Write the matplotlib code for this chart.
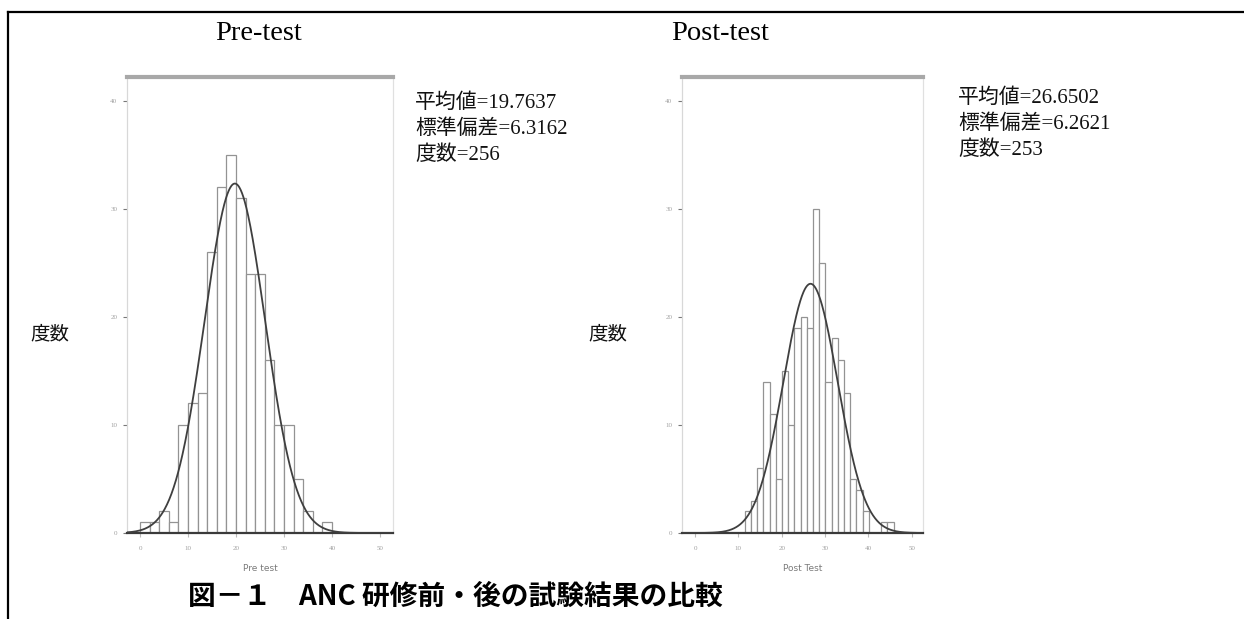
import numpy as np
import matplotlib
matplotlib.use("Agg")
import matplotlib.pyplot as plt
from matplotlib.lines import Line2D

plt.rcParams['font.family'] = ['Liberation Serif', 'Noto Sans CJK JP']

# ---------------- data ----------------
pre_bin_left = [0, 2, 4, 6, 8, 10, 12, 14, 16, 18, 20, 22, 24, 26, 28, 30, 32, 34, 36, 38]
pre_bin_width = 2.0
pre_counts = [1, 1, 2, 1, 10, 12, 13, 26, 32, 35, 31, 24, 24, 16, 10, 10, 5, 2, 0, 1]
pre_mean, pre_sd, pre_n = 19.7637, 6.3162, 256

post_bin_left = [11.47, 12.90, 14.33, 15.76, 17.19, 18.63, 20.06, 21.49, 22.92, 24.35,
                 25.78, 27.21, 28.64, 30.07, 31.50, 32.94, 34.37, 35.80, 37.23, 38.66,
                 40.09, 41.52, 42.95, 44.38]
post_bin_width = 1.431
post_counts = [2, 3, 6, 14, 11, 5, 15, 10, 19, 20, 19, 30, 25, 14, 18, 16, 13, 5, 4, 2, 0, 0, 1, 1]
post_mean, post_sd, post_n = 26.6502, 6.2621, 253

x_ticks = [0, 10, 20, 30, 40, 50]
y_ticks = [0, 10, 20, 30, 40]

titles = ["Pre-test", "Post-test"]
xlabels = ["Pre test", "Post Test"]
ylabel = "度数"
caption = "図－１　ANC 研修前・後の試験結果の比較"

# ---------------- figure ----------------
W, H = 1244, 619
fig = plt.figure(figsize=(W / 100, H / 100), dpi=100)
fig.patch.set_facecolor('white')


def fx(px):
    return px / W


def fy(py):
    return 1 - py / H


# frame lines
fig.add_artist(Line2D([fx(8), 1.0], [fy(12), fy(12)], color='black', lw=1.6))
fig.add_artist(Line2D([fx(8), fx(8)], [0.0, fy(12)], color='black', lw=1.6))

panels = [
    dict(left=127, right=393, xlim=(-2.71, 52.71), bins=pre_bin_left, bw=pre_bin_width,
         counts=pre_counts, mean=pre_mean, sd=pre_sd, n=pre_n,
         title_x=259, stats_x=415, stats_y=[103, 129, 155], ylab_x=50),
    dict(left=682, right=923, xlim=(-3.0, 52.6), bins=post_bin_left, bw=post_bin_width,
         counts=post_counts, mean=post_mean, sd=post_sd, n=post_n,
         title_x=720, stats_x=958, stats_y=[98, 124, 150], ylab_x=608),
]

top_px, bot_px = 77, 533
for i, p in enumerate(panels):
    ax = fig.add_axes([fx(p['left']), fy(bot_px), fx(p['right'] - p['left']),
                       (bot_px - top_px) / H])
    ax.bar(p['bins'], p['counts'], width=p['bw'], align='edge', color='white',
           edgecolor='#939393', linewidth=0.9, zorder=2)
    xs = np.linspace(p['xlim'][0], p['xlim'][1], 600)
    ys = p['n'] * p['bw'] / (p['sd'] * np.sqrt(2 * np.pi)) * np.exp(-0.5 * ((xs - p['mean']) / p['sd']) ** 2)
    ax.plot(xs, ys, color='#3f3f3f', lw=1.3, zorder=3)
    ax.set_xlim(*p['xlim'])
    ax.set_ylim(0, 42.2)
    ax.set_xticks(x_ticks)
    ax.set_yticks(y_ticks)
    ax.tick_params(axis='both', labelsize=5, labelcolor='#a0a0a0', length=3,
                   width=0.8, color='#777777')
    ax.tick_params(axis='x', color='#bbbbbb', pad=6)
    ax.tick_params(axis='y', pad=4)
    ax.spines['top'].set_color('#a8a8a8')
    ax.spines['top'].set_linewidth(3)
    ax.spines['left'].set_color('#d8d8d8')
    ax.spines['left'].set_linewidth(0.9)
    ax.spines['right'].set_color('#e0e0e0')
    ax.spines['right'].set_linewidth(0.9)
    ax.spines['bottom'].set_color('#3a3a3a')
    ax.spines['bottom'].set_linewidth(1.6)
    ax.set_xlabel(xlabels[i], fontsize=6.5, color='#7a7a7a', labelpad=10,
                  family=['DejaVu Sans'])

    fig.text(fx(p['title_x']), fy(34), titles[i], ha='center', va='center',
             fontsize=20.5, color='black')
    stats = ["平均値=%.4f" % p['mean'], "標準偏差=%.4f" % p['sd'], "度数=%d" % p['n']]
    for s, yy in zip(stats, p['stats_y']):
        fig.text(fx(p['stats_x']), fy(yy), s, ha='left', va='center',
                 fontsize=15, color='#111111')
    fig.text(fx(p['ylab_x']), fy(335), ylabel, ha='center', va='center',
             fontsize=14, color='#111111')

fig.text(fx(455), fy(597), caption, ha='center', va='center', fontsize=20,
         fontweight='bold', family=['Noto Sans CJK JP', 'DejaVu Sans'], color='black')

fig.savefig("out.png", dpi=100, facecolor='white')
